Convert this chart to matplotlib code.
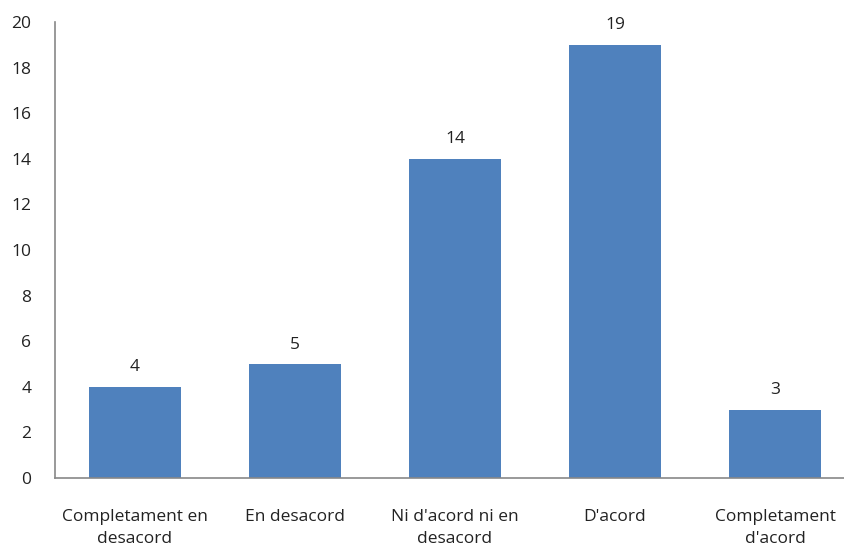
import matplotlib.pyplot as plt

categories = ['Completament en\ndesacord', 'En desacord', "Ni d'acord ni en\ndesacord",
              "D'acord", 'Completament\nd\'acord']
counts = [4, 5, 14, 19, 3]

plt.rcParams['font.family'] = ['Open Sans', 'DejaVu Sans']

fig = plt.figure(figsize=(8.45, 5.48), dpi=100, facecolor='w')
ax = fig.add_axes([55 / 845, 1 - 478 / 548, 800 / 845, 456 / 548])

x = range(len(categories))
bars = ax.bar(x, counts, width=0.57, color='#4F81BD', zorder=2)
for b, v in zip(bars, counts):
    ax.text(b.get_x() + b.get_width() / 2, v + 0.5, str(v),
            ha='center', va='bottom', fontsize=12.5, color='#222222')

ax.set_xlim(-0.5, 4.5)
ax.set_ylim(0, 20)
ax.set_yticks(range(0, 21, 2))
ax.set_xticks(list(x))
ax.set_xticklabels(categories, fontsize=12.5, color='#222222', linespacing=1.5)
ax.tick_params(axis='y', labelsize=12.5, labelcolor='#222222', length=0, pad=17)
ax.tick_params(axis='x', length=0, pad=22)

for s in ['top', 'right']:
    ax.spines[s].set_visible(False)
for s in ['left', 'bottom']:
    ax.spines[s].set_color('#888888')
    ax.spines[s].set_linewidth(1.2)

fig.savefig('out.png', dpi=100)
